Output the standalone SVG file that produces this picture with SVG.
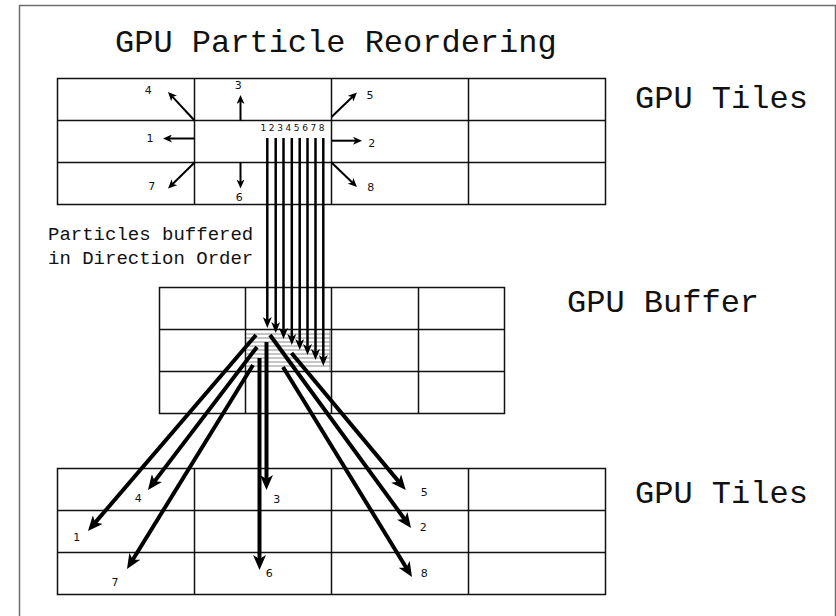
<svg xmlns="http://www.w3.org/2000/svg" width="836" height="616" viewBox="0 0 836 616">
<defs>
<style>
.frame{fill:none;stroke:#6e6e6e;stroke-width:1.5}
.grid{fill:none;stroke:#111;stroke-width:1.5}
.hl{stroke:#8a8a8a;stroke-width:1}
.mono{font-family:"Nimbus Mono PS","Courier","FreeMono","Liberation Mono","Courier New",monospace;fill:#111}
.num{font-family:"DejaVu Sans","Liberation Sans",sans-serif;fill:#111;text-anchor:middle}
.thin{stroke:#000;stroke-width:2;fill:none;marker-end:url(#hs)}
.vert{stroke:#000;stroke-width:2.5;fill:none;marker-end:url(#hm)}
.thick{stroke:#000;stroke-width:4;fill:none;marker-end:url(#hl)}
</style>
<marker id="hs" markerUnits="userSpaceOnUse" viewBox="0 0 9 8" markerWidth="9" markerHeight="8" refX="5" refY="4" orient="auto"><path d="M0,0 L9,4 L0,8 L2.5,4 z" fill="#000"/></marker>
<marker id="hm" markerUnits="userSpaceOnUse" viewBox="0 0 11 9" markerWidth="11" markerHeight="9" refX="6" refY="4.5" orient="auto"><path d="M0,0 L11,4.5 L0,9 L3,4.5 z" fill="#000"/></marker>
<marker id="hl" markerUnits="userSpaceOnUse" viewBox="0 0 15 13" markerWidth="15" markerHeight="13" refX="7" refY="6.5" orient="auto"><path d="M0,0 L15,6.5 L0,13 L4,6.5 z" fill="#000"/></marker>
</defs>
<rect x="0" y="0" width="836" height="616" fill="#fff"/>
<rect class="frame" x="19.5" y="5.5" width="816" height="620"/>
<text class="mono" x="115" y="52" font-size="32">GPU Particle Reordering</text>

<g id="top-tiles">
<rect class="grid" x="57.5" y="78.5" width="548" height="126"/>
<path class="grid" d="M57.5,120.5H605.5M57.5,162.5H605.5M194.5,78.5V204.5M331.5,78.5V204.5M468.5,78.5V204.5"/>
<text class="mono" x="635" y="108" font-size="32">GPU Tiles</text>
</g>

<g id="buffer">
<rect class="grid" x="159.5" y="287.5" width="345" height="126"/>
<path class="grid" d="M159.5,329.5H504.5M159.5,371.5H504.5M245.5,287.5V413.5M331.5,287.5V413.5M418.5,287.5V413.5"/>
<path class="hl" d="M246,334H330M246,338H330M246,342H330M246,346H330M246,350H330M246,354H330M246,358H330M246,362H330M246,366H330M330,330V371"/>
<text class="mono" x="567" y="312" font-size="32">GPU Buffer</text>
</g>

<g id="bottom-tiles">
<rect class="grid" x="57.5" y="468.5" width="548" height="126"/>
<path class="grid" d="M57.5,510.5H605.5M57.5,552.5H605.5M194.5,468.5V594.5M331.5,468.5V594.5M468.5,468.5V594.5"/>
<text class="mono" x="635" y="503" font-size="32">GPU Tiles</text>
</g>

<g id="note">
<text class="mono" x="48" y="240" font-size="19">Particles buffered</text>
<text class="mono" x="48" y="264" font-size="19">in Direction Order</text>
</g>

<g id="connectors">
<line class="thin" x1="194.5" y1="120.5" x2="170.7" y2="94.9"/>
<line class="thin" x1="240.5" y1="120.5" x2="240.5" y2="99"/>
<line class="thin" x1="194" y1="138.5" x2="167" y2="138.5"/>
<line class="thin" x1="194.5" y1="162.5" x2="170.9" y2="185.7"/>
<line class="thin" x1="240.5" y1="162.5" x2="240.5" y2="184.5"/>
<line class="thin" x1="331.5" y1="117" x2="354.1" y2="95.3"/>
<line class="thin" x1="332" y1="140.7" x2="358" y2="140.7"/>
<line class="thin" x1="331.5" y1="162.5" x2="354.1" y2="184.2"/>

<line class="vert" x1="267.3" y1="138" x2="267.3" y2="323"/>
<line class="vert" x1="275.7" y1="138" x2="275.7" y2="328"/>
<line class="vert" x1="283.5" y1="138" x2="283.5" y2="334"/>
<line class="vert" x1="291.8" y1="138" x2="291.8" y2="340"/>
<line class="vert" x1="299.7" y1="138" x2="299.7" y2="345"/>
<line class="vert" x1="307.5" y1="138" x2="307.5" y2="350"/>
<line class="vert" x1="315.5" y1="138" x2="315.5" y2="355"/>
<line class="vert" x1="323.3" y1="138" x2="323.3" y2="361"/>

<line class="thick" x1="256" y1="335" x2="93.2" y2="524.9"/>
<line class="thick" x1="257" y1="347" x2="152.8" y2="483.6"/>
<line class="thick" x1="253" y1="365" x2="131.2" y2="562.2"/>
<line class="thick" x1="266.5" y1="342" x2="266.5" y2="482"/>
<line class="thick" x1="259.5" y1="358" x2="259.5" y2="562"/>
<line class="thick" x1="291.5" y1="353" x2="400.6" y2="483.9"/>
<line class="thick" x1="270" y1="335" x2="406.3" y2="521.5"/>
<line class="thick" x1="283" y1="367" x2="407.8" y2="570.2"/>
</g>

<g id="labels">
<text class="num" x="148.3" y="94" font-size="11">4</text>
<text class="num" x="238.3" y="89" font-size="11">3</text>
<text class="num" x="150" y="142.3" font-size="11">1</text>
<text class="num" x="151.7" y="190" font-size="11">7</text>
<text class="num" x="239.3" y="201.3" font-size="11">6</text>
<text class="num" x="370" y="99" font-size="11">5</text>
<text class="num" x="371.7" y="146.7" font-size="11">2</text>
<text class="num" x="370.7" y="190.7" font-size="11">8</text>
<text class="num" x="263.3" y="131" font-size="9">1</text>
<text class="num" x="271.6" y="131" font-size="9">2</text>
<text class="num" x="280" y="131" font-size="9">3</text>
<text class="num" x="288.3" y="131" font-size="9">4</text>
<text class="num" x="296.6" y="131" font-size="9">5</text>
<text class="num" x="305" y="131" font-size="9">6</text>
<text class="num" x="313.3" y="131" font-size="9">7</text>
<text class="num" x="321.7" y="131" font-size="9">8</text>
<text class="num" x="76.7" y="541.3" font-size="11">1</text>
<text class="num" x="138.3" y="502.3" font-size="11">4</text>
<text class="num" x="115" y="586.3" font-size="11">7</text>
<text class="num" x="276.7" y="503.3" font-size="11">3</text>
<text class="num" x="269.3" y="577.3" font-size="11">6</text>
<text class="num" x="424.3" y="495.7" font-size="11">5</text>
<text class="num" x="423.3" y="531.3" font-size="11">2</text>
<text class="num" x="424.3" y="577.3" font-size="11">8</text>
</g>
</svg>
